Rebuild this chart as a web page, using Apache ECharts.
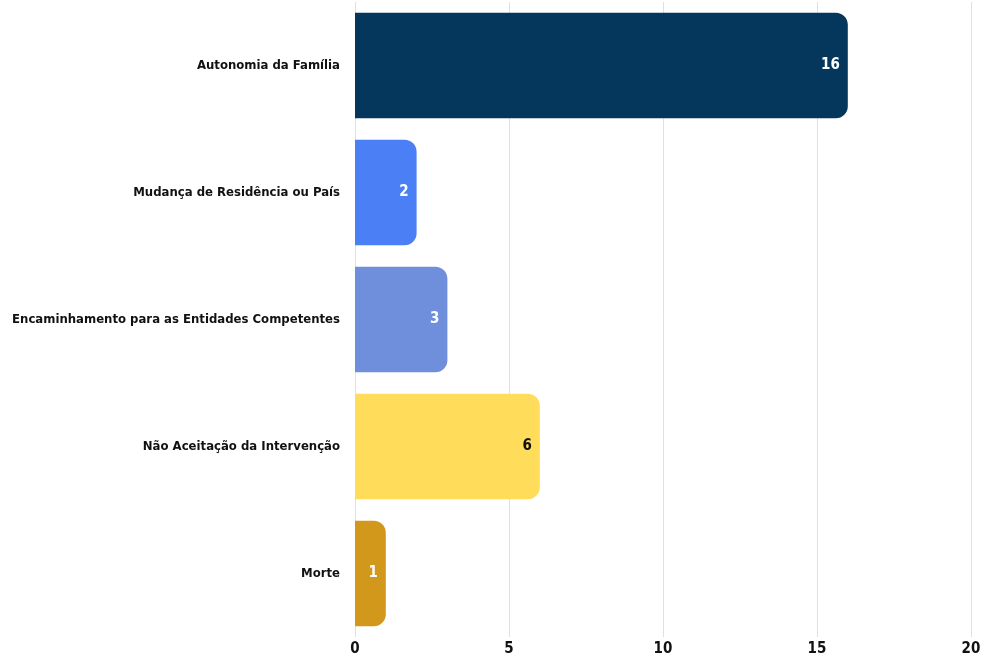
<!DOCTYPE html>
<html>
<head>
<meta charset="utf-8">
<script src="https://cdn.jsdelivr.net/npm/echarts@6/dist/echarts.min.js"></script>
<style>
	html,body{margin:0;padding:0;background:#fff;}
	#chart{width:984px;height:659px;}
</style>
</head>
<body>
<div id="chart"></div>
<script>
	var categories = ['Autonomia da Família', 'Mudança de Residência ou País', 'Encaminhamento para as Entidades Competentes', 'Não Aceitação da Intervenção', 'Morte'];
	var values = [16, 2, 3, 6, 1];
	var barColors = ['#04375b', '#4a7ff5', '#6f8fdc', '#ffdc5a', '#d1981b'];
	var labelColors = ['#ffffff', '#ffffff', '#ffffff', '#111111', '#ffffff'];

	var font = '"DejaVu Sans Condensed", sans-serif';
	var chart = echarts.init(document.getElementById('chart'));
	var data = values.map(function(v, i){
		return {
			value: v,
			itemStyle: { color: barColors[i], borderRadius: [0, 12, 12, 0] },
			label: { color: labelColors[i] }
		};
	});
	var option = {
		animation: false,
		grid: { left: 355, right: 13, top: 2, bottom: 22, containLabel: false, outerBoundsMode: 'none' },
		xAxis: {
			type: 'value',
			min: 0, max: 20, interval: 5,
			axisLine: { show: false },
			axisTick: { show: false },
			splitLine: { lineStyle: { color: '#e0e0e0' } },
			axisLabel: { color: '#111', fontFamily: font, fontWeight: 'bold', fontSize: 15, margin: 5 }
		},
		yAxis: {
			type: 'category',
			inverse: true,
			data: categories,
			axisLine: { show: false },
			axisTick: { show: false },
			axisLabel: { color: '#111', fontFamily: font, fontWeight: 'bold', fontSize: 13, margin: 15 }
		},
		series: [{
			type: 'bar',
			data: data,
			barCategoryGap: '17%',
			label: {
				show: true,
				position: 'insideRight',
				distance: 8,
				fontFamily: font,
				fontWeight: 'bold',
				fontSize: 15
			}
		}]
	};
	chart.setOption(option);
</script>
</body>
</html>
